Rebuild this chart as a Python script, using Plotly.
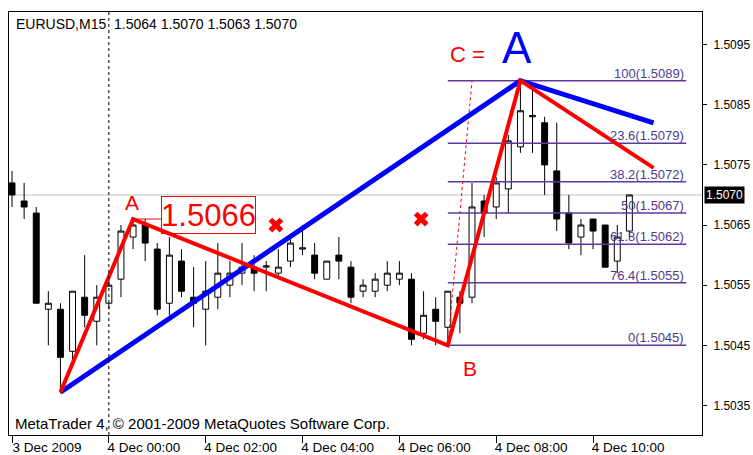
import plotly.graph_objects as go

# ---------------- data ----------------
candle_idx = list(range(52))
opens = [1.5072, 1.5069, 1.5067, 1.5051, 1.5051, 1.5044, 1.5053, 1.5049, 1.5052, 1.5056,
         1.5063, 1.5065, 1.5061, 1.5052, 1.5059, 1.5053, 1.5051, 1.5053, 1.5055, 1.5057,
         1.5058, 1.5058, 1.5057, 1.5059, 1.5061, 1.5060, 1.5056, 1.5060, 1.5058, 1.5054,
         1.5054, 1.5055, 1.5056, 1.5056, 1.5047, 1.5051, 1.5048, 1.5053, 1.5053, 1.5069,
         1.5068, 1.5071, 1.5078, 1.5083, 1.5082, 1.5074, 1.5067, 1.5063, 1.5066, 1.5065,
         1.5059, 1.5064]
highs = [1.5074, 1.5072, 1.5068, 1.5054, 1.5052, 1.5054, 1.5060, 1.5055, 1.5056, 1.5065,
         1.5066, 1.5066, 1.5062, 1.5063, 1.5061, 1.5058, 1.5059, 1.5062, 1.5059, 1.5062,
         1.5060, 1.5059, 1.5061, 1.5063, 1.5065, 1.5062, 1.5059, 1.5063, 1.5059, 1.5056,
         1.5057, 1.5059, 1.5059, 1.5057, 1.5054, 1.5053, 1.5054, 1.5054, 1.5072, 1.5070,
         1.5073, 1.5080, 1.5089, 1.5088, 1.5083, 1.5082, 1.5070, 1.5066, 1.5066, 1.5065,
         1.5065, 1.5070]
lows = [1.5068, 1.5066, 1.5052, 1.5045, 1.5037, 1.5042, 1.5048, 1.5045, 1.5051, 1.5053,
        1.5061, 1.5059, 1.5050, 1.5050, 1.5053, 1.5048, 1.5045, 1.5051, 1.5053, 1.5055,
        1.5054, 1.5054, 1.5056, 1.5058, 1.5060, 1.5056, 1.5056, 1.5056, 1.5052, 1.5053,
        1.5053, 1.5054, 1.5055, 1.5045, 1.5046, 1.5045, 1.5045, 1.5047, 1.5052, 1.5063,
        1.5066, 1.5067, 1.5077, 1.5077, 1.5070, 1.5064, 1.5061, 1.5060, 1.5061, 1.5058,
        1.5057, 1.5063]
closes = [1.5070, 1.5068, 1.5052, 1.5052, 1.5043, 1.5054, 1.5050, 1.5053, 1.5055, 1.5064,
          1.5065, 1.5062, 1.5051, 1.5060, 1.5054, 1.5052, 1.5054, 1.5057, 1.5057, 1.5058,
          1.5057, 1.50582, 1.5058, 1.5062, 1.50612, 1.5057, 1.5059, 1.5059, 1.5053, 1.5055,
          1.5056, 1.5057, 1.5057, 1.5046, 1.5050, 1.5049, 1.5054, 1.5052, 1.5068, 1.5067,
          1.5072, 1.5079, 1.5084, 1.50832, 1.5075, 1.5066, 1.5062, 1.5065, 1.5064, 1.5058,
          1.5063, 1.5070]

x_tick_idx = [0, 8, 16, 24, 32, 40, 48]
x_tick_text = ["3 Dec 2009", "4 Dec 00:00", "4 Dec 02:00", "4 Dec 04:00",
               "4 Dec 06:00", "4 Dec 08:00", "4 Dec 10:00"]
y_ticks = [1.5035, 1.5045, 1.5055, 1.5065, 1.5075, 1.5085, 1.5095]

current_price = 1.5070
day_separator_idx = 8

# zigzag ABC pattern (red) and wave line (blue)
zigzag_x = [4, 10, 36, 42, 53]
zigzag_y = [1.50372, 1.5066, 1.5045, 1.5089, 1.50745]
wave_x = [4, 42, 53]
wave_y = [1.50372, 1.5089, 1.5082]

# fibonacci retracement
fib_start_idx = 36
fib_end_idx = 55.7
fib_labels = ["100", "23.6", "38.2", "50", "61.8", "76.4", "0"]
fib_prices = [1.5089, 1.50786, 1.50722, 1.5067, 1.50618, 1.50554, 1.5045]

# red dotted trend line
dotted_x = [36, 38]
dotted_y = [1.5045, 1.5089]

# red cross marks
cross_x = [21.8, 33.8]
cross_y = [1.5065, 1.5066]

# price label at point A
a_price = 1.5066

FONT = "Liberation Sans, Arial, sans-serif"
RED = "#FF0000"
BLUE = "#0000FF"
FIBC = "#5E3A9E"
FIBT = "#4B3C8C"

fig = go.Figure()

# candles
fig.add_trace(go.Candlestick(
    x=candle_idx, open=opens, high=highs, low=lows, close=closes,
    increasing=dict(line=dict(color="black", width=1), fillcolor="white"),
    decreasing=dict(line=dict(color="black", width=1), fillcolor="black"),
    whiskerwidth=0, showlegend=False, hoverinfo="skip",
))

# current price line
fig.add_hline(y=current_price, line=dict(color="#C0C0C0", width=1), layer="below")
# day separator
fig.add_vline(x=day_separator_idx, line=dict(color="black", width=1, dash="3px,3px"))

# fib lines
for lab, p in zip(fib_labels, fib_prices):
    fig.add_trace(go.Scatter(x=[fib_start_idx, fib_end_idx], y=[p, p], mode="lines",
                             line=dict(color=FIBC, width=1.5), showlegend=False,
                             hoverinfo="skip"))
    fig.add_annotation(x=fib_end_idx, y=p, xref="x", yref="y", text=f"{lab}({p:.4f})",
                       showarrow=False, xanchor="right", yanchor="bottom", yshift=-2,
                       font=dict(family=FONT, size=13, color=FIBT))

# dotted line
fig.add_trace(go.Scatter(x=dotted_x, y=dotted_y, mode="lines",
                         line=dict(color=RED, width=1, dash="dot"), showlegend=False,
                         hoverinfo="skip"))

# connector from A to price label
fig.add_trace(go.Scatter(x=[zigzag_x[1], 12.3], y=[a_price, a_price], mode="lines",
                         line=dict(color=RED, width=1), showlegend=False, hoverinfo="skip"))

# blue wave
fig.add_trace(go.Scatter(x=wave_x, y=wave_y, mode="lines",
                         line=dict(color=BLUE, width=5), showlegend=False, hoverinfo="skip"))
# red zigzag
fig.add_trace(go.Scatter(x=zigzag_x, y=zigzag_y, mode="lines",
                         line=dict(color=RED, width=4), showlegend=False, hoverinfo="skip"))

# crosses
fig.add_trace(go.Scatter(x=cross_x, y=cross_y, mode="markers",
                         marker=dict(symbol="x", size=13, color=RED, line=dict(width=0)),
                         showlegend=False, hoverinfo="skip"))

# text labels
fig.add_annotation(x=9.9, y=1.50687, text="A", showarrow=False,
                   font=dict(family=FONT, size=21, color=RED))
fig.add_annotation(x=37.8, y=1.50412, text="B", showarrow=False,
                   font=dict(family=FONT, size=21, color=RED))
fig.add_annotation(x=37.6, y=1.50933, text="C =", showarrow=False,
                   font=dict(family=FONT, size=22, color=RED))
fig.add_annotation(x=41.7, y=1.50945, text="A", showarrow=False,
                   font=dict(family=FONT, size=44, color=BLUE))
fig.add_annotation(x=16.2, y=1.50666, text=f"{a_price:.4f}", showarrow=False,
                   font=dict(family=FONT, size=31, color=RED),
                   bordercolor=RED, borderwidth=1, borderpad=0, width=93, height=36)

# header & footer
fig.add_annotation(x=0, y=1, xref="paper", yref="paper", xanchor="left", yanchor="top",
                   xshift=5, yshift=-2,
                   text="EURUSD,M15\u00a0\u00a01.5064 1.5070 1.5063 1.5070", showarrow=False,
                   font=dict(family=FONT, size=14, color="black"))
fig.add_annotation(x=0, y=0, xref="paper", yref="paper", xanchor="left", yanchor="bottom",
                   xshift=4, yshift=1,
                   text="MetaTrader 4, \u00a9 2001-2009 MetaQuotes Software Corp.", showarrow=False,
                   font=dict(family=FONT, size=15, color="black"))

# current price tag
fig.add_annotation(x=1, y=current_price, xref="paper", yref="y", xanchor="left",
                   xshift=2, text=f"{current_price:.4f}", showarrow=False,
                   bgcolor="black", font=dict(family=FONT, size=12, color="white"),
                   borderpad=1)

fig.update_layout(
    width=753, height=455,
    margin=dict(l=9, r=51, t=12, b=20, autoexpand=False),
    paper_bgcolor="white", plot_bgcolor="white",
    font=dict(family=FONT, size=13, color="black"),
    showlegend=False,
    xaxis=dict(range=[-0.25, 57.0], tickmode="array", tickvals=x_tick_idx,
               ticktext=x_tick_text, ticks="outside", ticklen=7, tickcolor="black",
               showgrid=False, zeroline=False, showline=True, linecolor="black",
               linewidth=1, mirror=True, rangeslider=dict(visible=False),
               ticklabelshift=35, ticklabelstandoff=-7, automargin=False,
               tickfont=dict(family=FONT, size=13.5, color="black")),
    yaxis=dict(range=[1.503009, 1.510042], side="right", tickmode="array",
               tickvals=y_ticks, tickformat=".4f", ticks="outside", ticklen=4,
               tickcolor="black", showgrid=False, zeroline=False, showline=True,
               linecolor="black", linewidth=1, mirror=True, automargin=False,
               ticklabelstandoff=4,
               tickfont=dict(family=FONT, size=12, color="black")),
)

fig.write_html("out.html", config={"displayModeBar": False},
               post_script="document.body.style.margin='0';"
               "document.body.style.overflow='hidden';")
